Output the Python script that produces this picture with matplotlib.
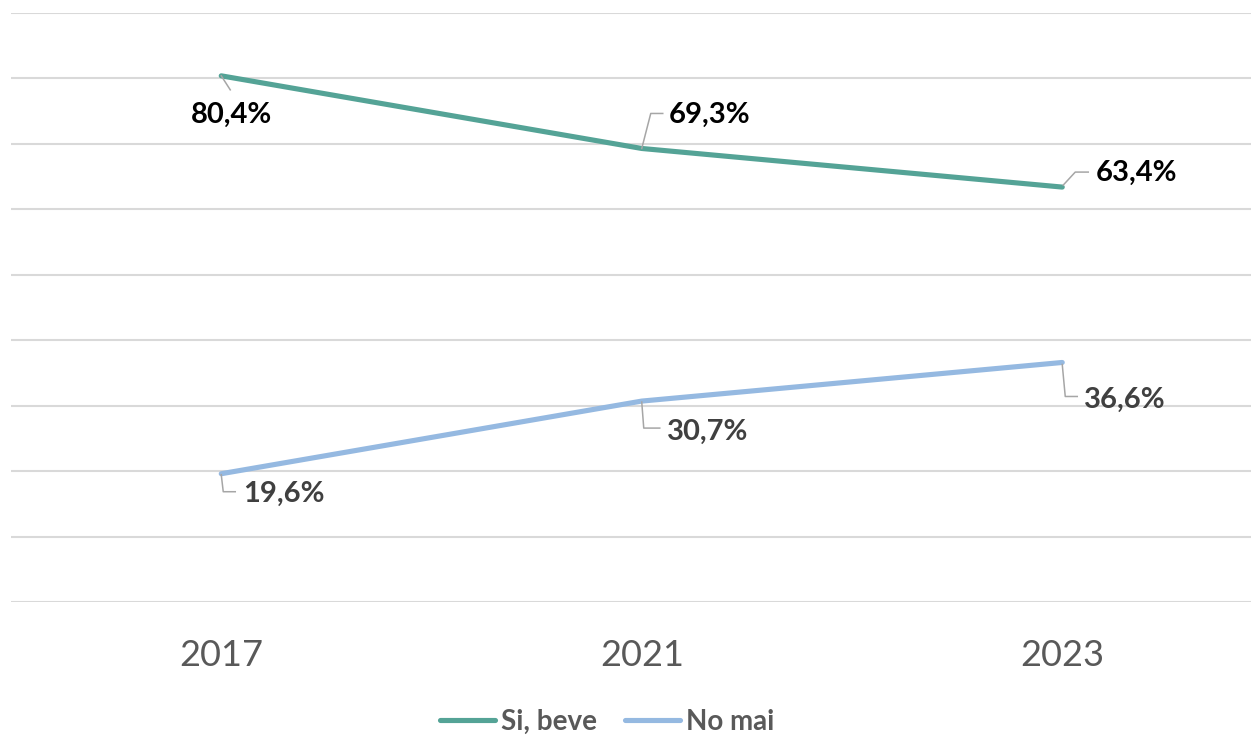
"""Line chart: share of respondents who drink vs. never drink, 2017-2023."""

import matplotlib.pyplot as plt
from matplotlib.lines import Line2D
from matplotlib.transforms import IdentityTransform

years = ["2017", "2021", "2023"]
si_beve = [80.4, 69.3, 63.4]
no_mai = [19.6, 30.7, 36.6]
series_names = ["Si, beve", "No mai"]

GREEN = "#54A396"
BLUE = "#95B9E1"
GRID = "#D9D9D9"
LEADER = "#A6A6A6"
TEXT_GRAY = "#595959"
DPI = 100

# label offsets (px, right/up) and leader-line vertices (px, right/down) per point
green_offsets = [(10, -39), (68, 34), (74, 14)]
green_leaders = [[(0, 0), (9, 14)],
                 [(0, 0), (9, -35), (21, -35)],
                 [(1, -2), (13, -15), (26, -15)]]
blue_offsets = [(63, -20), (66, -31), (63, -37)]
blue_leaders = [[(0, 1), (2, 18), (14, 18)],
                [(0, 1), (2, 27), (18, 27)],
                [(0, 2), (3, 34), (15, 34)]]

plt.rcParams["font.family"] = ["Lato", "DejaVu Sans"]

fig = plt.figure(figsize=(1252 / DPI, 737 / DPI), dpi=DPI)
ax = fig.add_axes([11 / 1252, (737 - 602) / 737, 1240 / 1252, 589 / 737])

x = list(range(len(years)))
ax.plot(x, si_beve, color=GREEN, lw=3.7, solid_capstyle="round", zorder=3)
ax.plot(x, no_mai, color=BLUE, lw=3.7, solid_capstyle="round", zorder=3)

ax.set_xlim(-0.5, -0.5 + 1240 / 420.5)
ax.set_ylim(0, 90)
ax.set_yticks(range(0, 91, 10))
ax.yaxis.grid(True, color=GRID, lw=1.5)
ax.set_axisbelow(True)
ax.tick_params(axis="y", left=False, labelleft=False)
ax.set_xticks(x)
ax.set_xticklabels(years, fontsize=26, color=TEXT_GRAY)
ax.tick_params(axis="x", length=0, pad=27)
for spine in ax.spines.values():
    spine.set_visible(False)


def fmt(v):
    return f"{v:.1f}".replace(".", ",") + "%"


def label_series(values, offsets, leaders, color):
    for i, v in enumerate(values):
        px, py = ax.transData.transform((i, v))
        dx, dy = offsets[i]
        ax.annotate(fmt(v), (i, v), xytext=(dx * 72 / DPI, dy * 72 / DPI),
                    textcoords="offset points", ha="center", va="center",
                    fontsize=21, fontweight="bold", color=color, zorder=5)
        xs = [px + a for a, b in leaders[i]]
        ys = [py - b for a, b in leaders[i]]
        fig.add_artist(Line2D(xs, ys, transform=IdentityTransform(),
                              color=LEADER, lw=1.1, zorder=2))


label_series(si_beve, green_offsets, green_leaders, "#000000")
label_series(no_mai, blue_offsets, blue_leaders, "#404040")

handles = [Line2D([], [], color=GREEN, lw=3.7, solid_capstyle="round"),
           Line2D([], [], color=BLUE, lw=3.7, solid_capstyle="round")]
fig.legend(handles, series_names, loc="center", bbox_to_anchor=(607 / 1252, 1 - 722 / 737),
           ncol=2, frameon=False, handlelength=2.0, handletextpad=0.2,
           columnspacing=1.0, prop={"size": 20, "weight": "bold"}, labelcolor=TEXT_GRAY)

fig.savefig("out.png", dpi=DPI)
